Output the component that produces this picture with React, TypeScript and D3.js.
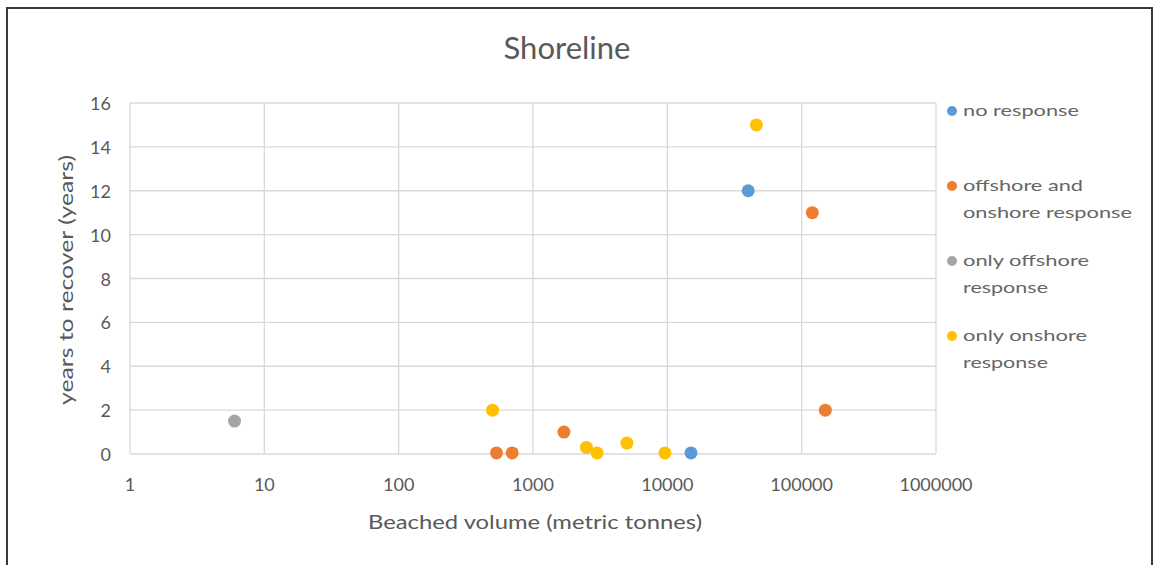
import React, { useEffect, useRef } from 'react';
import * as d3 from 'd3';

const seriesNames = ['no response', 'offshore and onshore response', 'only offshore response', 'only onshore response'];
const seriesColors = ['#5B9BD5', '#ED7D31', '#A5A5A5', '#FFC000'];
const legendLines = [['no response'], ['offshore and', 'onshore response'], ['only offshore', 'response'], ['only onshore', 'response']];

const noResponse = [[15000, 0.05], [40000, 12]];
const offAndOnshore = [[535, 0.05], [700, 0.05], [1700, 1], [120000, 11], [150000, 2]];
const onlyOffshore = [[6, 1.5]];
const onlyOnshore = [[500, 2], [2500, 0.3], [3000, 0.05], [5000, 0.5], [9600, 0.05], [46000, 15]];

const xTicks = [1, 10, 100, 1000, 10000, 100000, 1000000];
const yTicks = [0, 2, 4, 6, 8, 10, 12, 14, 16];

// widths of the stretched legend lines in the picture
const legendWidths = [[116], [120, 169], [126, 85], [124, 85]];

const App = () => {
  const svgRef = useRef<SVGSVGElement>(null);

  useEffect(() => {
    const svg = d3.select(svgRef.current);
    svg.selectAll('*').remove();
    const font = "Lato, 'Open Sans', sans-serif";
    const textColor = '#595959';

    const x = d3.scaleLog().domain([1, 1000000]).range([130, 936]);
    const y = d3.scaleLinear().domain([0, 16]).range([454, 103]);

    svg.append('rect')
      .attr('x', 0).attr('y', 0).attr('width', 1157).attr('height', 565)
      .attr('fill', '#fff');

    // outer frame
    svg.append('rect')
      .attr('x', 7).attr('y', 8).attr('width', 1145).attr('height', 580)
      .attr('fill', 'none').attr('stroke', '#3a3a3a').attr('stroke-width', 2);

    svg.append('text')
      .attr('x', 567).attr('y', 59)
      .attr('text-anchor', 'middle')
      .style('font-family', font).style('font-size', '31px')
      .attr('fill', textColor)
      .text('Shoreline');

    // grid
    svg.append('g')
      .selectAll('line')
      .data(xTicks)
      .join('line')
      .attr('x1', d => x(d)).attr('x2', d => x(d))
      .attr('y1', y(16)).attr('y2', y(0))
      .attr('stroke', '#d9d9d9').attr('stroke-width', 1.3);

    svg.append('g')
      .selectAll('line')
      .data(yTicks)
      .join('line')
      .attr('x1', x(1)).attr('x2', x(1000000))
      .attr('y1', d => y(d)).attr('y2', d => y(d))
      .attr('stroke', '#d9d9d9').attr('stroke-width', 1.3);

    // tick labels
    svg.append('g')
      .selectAll('text')
      .data(xTicks)
      .join('text')
      .attr('x', d => x(d)).attr('y', 491)
      .attr('text-anchor', 'middle')
      .style('font-family', font).style('font-size', '18px')
      .attr('fill', textColor)
      .text(d => String(d));

    svg.append('g')
      .selectAll('text')
      .data(yTicks)
      .join('text')
      .attr('x', 111).attr('y', d => y(d) + 7)
      .attr('text-anchor', 'end')
      .style('font-family', font).style('font-size', '18px')
      .attr('fill', textColor)
      .text(d => String(d));

    svg.append('text')
      .attr('x', 368).attr('y', 529)
      .attr('textLength', 334).attr('lengthAdjust', 'spacingAndGlyphs')
      .style('font-family', font).style('font-size', '19px')
      .attr('fill', textColor)
      .text('Beached volume (metric tonnes)');

    svg.append('text')
      .attr('transform', 'translate(73,405) rotate(-90)')
      .attr('textLength', 250).attr('lengthAdjust', 'spacingAndGlyphs')
      .style('font-family', font).style('font-size', '19px')
      .attr('fill', textColor)
      .text('years to recover  (years)');

    const allSeries = [noResponse, offAndOnshore, onlyOffshore, onlyOnshore];
    allSeries.forEach((pts, i) => {
      svg.append('g')
        .selectAll('circle')
        .data(pts)
        .join('circle')
        .attr('cx', d => x(d[0]))
        .attr('cy', d => y(d[1]))
        .attr('r', 6.5)
        .attr('fill', seriesColors[i]);
    });

    // legend
    const legendY = [111, 186, 261, 336];
    const lg = svg.append('g');
    seriesNames.forEach((name, i) => {
      lg.append('circle')
        .attr('cx', 952).attr('cy', legendY[i])
        .attr('r', 5)
        .attr('fill', seriesColors[i]);
      legendLines[i].forEach((line, j) => {
        lg.append('text')
          .attr('x', 963).attr('y', legendY[i] + 5 + j * 27)
          .attr('textLength', legendWidths[i][j]).attr('lengthAdjust', 'spacingAndGlyphs')
          .style('font-family', font).style('font-size', '16px')
          .attr('fill', '#666')
          .text(line);
      });
    });
  }, []);

  return (
    <svg ref={svgRef} width={1157} height={565}
      style={{ position: 'absolute', left: 0, top: 0, display: 'block' }} />
  );
};

export default App;
